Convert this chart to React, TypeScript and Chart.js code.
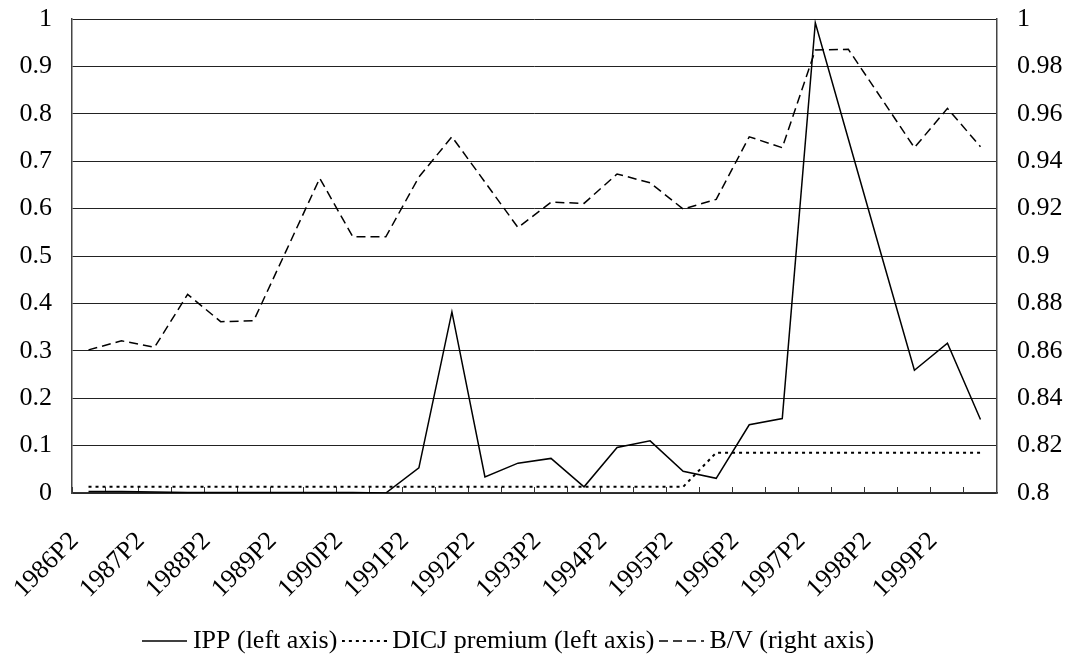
import React, { useEffect, useRef } from 'react';
import { Chart, registerables } from 'chart.js';

Chart.register(...registerables);

const categories = [
  '1986P2', '1987P1', '1987P2', '1988P1', '1988P2', '1989P1', '1989P2',
  '1990P1', '1990P2', '1991P1', '1991P2', '1992P1', '1992P2', '1993P1',
  '1993P2', '1994P1', '1994P2', '1995P1', '1995P2', '1996P1', '1996P2',
  '1997P1', '1997P2', '1998P1', '1998P2', '1999P1', '1999P2', '2000P1',
];

const ippValues = [
  0.003, 0.003, 0.002, 0.001, 0.001, 0.001, 0.001, 0.001, 0.001, 0.0,
  0.053, 0.382, 0.034, 0.063, 0.073, 0.013, 0.096, 0.11, 0.046, 0.031,
  0.144, 0.157, 0.992, 0.747, 0.502, 0.259, 0.316, 0.155,
];

const dicjValues = [
  0.013, 0.013, 0.013, 0.013, 0.013, 0.013, 0.013, 0.013, 0.013, 0.013,
  0.013, 0.013, 0.013, 0.013, 0.013, 0.013, 0.013, 0.013, 0.013, 0.085,
  0.085, 0.085, 0.085, 0.085, 0.085, 0.085, 0.085, 0.085,
];

const bvValues = [
  0.8604, 0.8642, 0.8615, 0.8838, 0.8723, 0.8727, 0.9027, 0.9328, 0.9081, 0.9081,
  0.9333, 0.9503, 0.9312, 0.912, 0.9227, 0.9222, 0.9346, 0.9309, 0.9198, 0.9239,
  0.9503, 0.9457, 0.9869, 0.9872, 0.9665, 0.9457, 0.9623, 0.9461,
];

const seriesLabels = ['IPP (left axis)', 'DICJ premium (left axis)', 'B/V (right axis)'];

const FONT = 'Liberation Serif';

function legendLine(dash: number[], width: number): HTMLCanvasElement {
  const c = document.createElement('canvas');
  c.width = 45;
  c.height = 6;
  const ctx = c.getContext('2d')!;
  ctx.strokeStyle = '#000';
  ctx.lineWidth = width;
  ctx.setLineDash(dash);
  ctx.beginPath();
  ctx.moveTo(0, 3);
  ctx.lineTo(45, 3);
  ctx.stroke();
  return c;
}

const fmt = (v: any) => String(parseFloat(Number(v).toFixed(2)));

// shifts the (centred) legend block slightly left, as in the reference
const legendShift = {
  id: 'legendShift',
  afterLayout(chart: any) {
    if (chart.legend) {
      chart.legend.left -= 24;
      chart.legend.right -= 24;
    }
  },
};

export default function App() {
  const ref = useRef<HTMLCanvasElement | null>(null);

  useEffect(() => {
    document.body.style.margin = '0';
    document.body.style.overflow = 'hidden';
    const canvas = ref.current;
    if (!canvas) return;

    const solidDash: number[] = [];
    const dotDash = [3, 4];
    const dashDash = [9, 5];

    const yFit = (w: number) => (scale: any) => {
      scale.width = w;
      scale.paddingTop = 19;
      scale.paddingBottom = 0;
    };

    const chart = new Chart(canvas, {
      type: 'line',
      data: {
        labels: categories,
        datasets: [
          {
            label: seriesLabels[0],
            data: ippValues,
            borderColor: '#000',
            backgroundColor: '#000',
            borderWidth: 1.5,
            borderDash: solidDash,
            pointRadius: 0,
            pointStyle: legendLine(solidDash, 1.5),
            tension: 0,
            yAxisID: 'y',
          },
          {
            label: seriesLabels[1],
            data: dicjValues,
            borderColor: '#000',
            backgroundColor: '#000',
            borderWidth: 2,
            borderDash: dotDash,
            pointRadius: 0,
            pointStyle: legendLine(dotDash, 2),
            tension: 0,
            yAxisID: 'y',
          },
          {
            label: seriesLabels[2],
            data: bvValues,
            borderColor: '#000',
            backgroundColor: '#000',
            borderWidth: 1.5,
            borderDash: dashDash,
            pointRadius: 0,
            pointStyle: legendLine(dashDash, 1.5),
            tension: 0,
            yAxisID: 'y1',
          },
        ],
      },
      options: {
        responsive: false,
        animation: false,
        events: [],
        layout: { padding: { top: 0, bottom: -8, left: 0, right: 0 } },
        scales: {
          x: {
            type: 'category',
            offset: true,
            grid: {
              display: true,
              offset: true,
              drawOnChartArea: false,
              drawTicks: true,
              tickLength: -6,
              color: '#333',
              lineWidth: 1,
            },
            border: { display: true, color: '#333', width: 1.5 },
            ticks: {
              autoSkip: false,
              minRotation: 45,
              maxRotation: 45,
              padding: 39,
              labelOffset: -14,
              color: '#000',
              font: { family: FONT, size: 26 },
              callback: (_v: any, i: number) => (i % 2 === 0 ? categories[i] : ''),
            },
            afterFit: (scale: any) => {
              scale.height = 123;
              scale.paddingLeft = 0;
              scale.paddingRight = 0;
            },
          },
          y: {
            type: 'linear',
            position: 'left',
            min: 0,
            max: 1,
            ticks: {
              stepSize: 0.1,
              padding: 20,
              color: '#000',
              font: { family: FONT, size: 26 },
              callback: fmt,
            },
            grid: { color: '#222', lineWidth: 1, drawTicks: false },
            border: { display: true, color: '#444', width: 1.5 },
            afterFit: yFit(72),
          },
          y1: {
            type: 'linear',
            position: 'right',
            min: 0.8,
            max: 1,
            ticks: {
              stepSize: 0.02,
              padding: 20,
              color: '#000',
              font: { family: FONT, size: 26 },
              callback: fmt,
            },
            grid: { drawOnChartArea: false, drawTicks: false },
            border: { display: true, color: '#444', width: 1.5 },
            afterFit: yFit(75),
          },
        },
        plugins: {
          legend: {
            display: true,
            position: 'bottom',
            labels: {
              usePointStyle: true,
              pointStyleWidth: 30,
              padding: 12,
              color: '#000',
              font: { family: FONT, size: 26 },
            },
          },
          tooltip: { enabled: false },
          title: { display: false },
        },
      },
      plugins: [legendShift],
    } as any);

    return () => {
      chart.destroy();
    };
  }, []);

  return (
    <div style={{ width: 1072, height: 656, background: '#fff' }}>
      <canvas ref={ref} width={1072} height={656} style={{ display: 'block' }} />
    </div>
  );
}
